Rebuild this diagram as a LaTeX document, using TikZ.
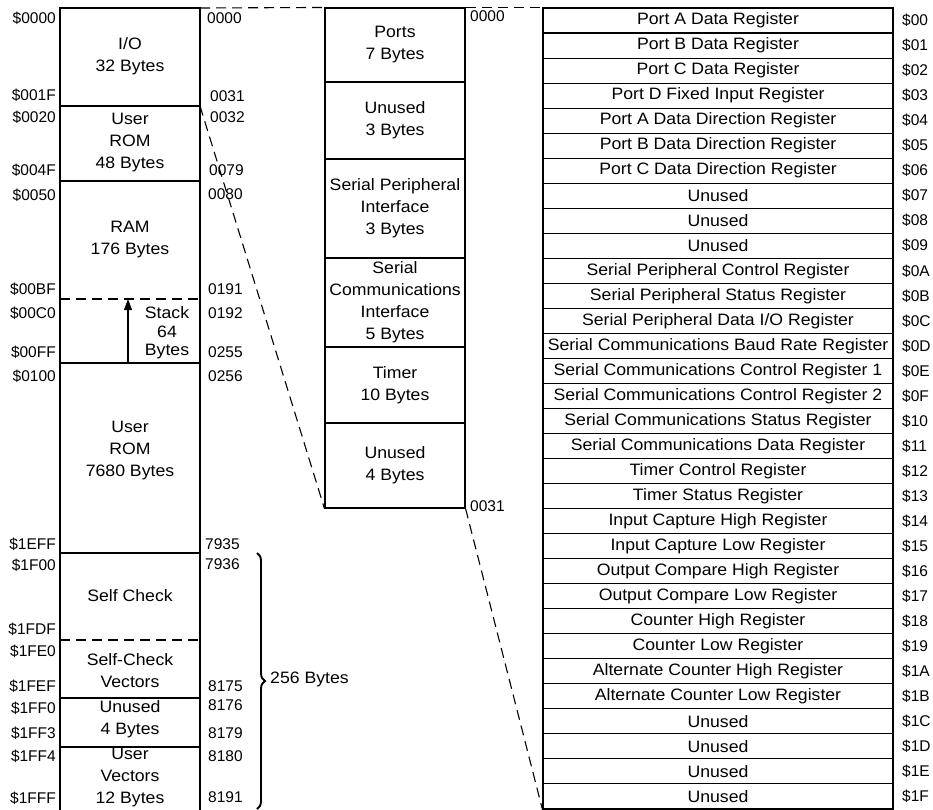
\documentclass[tikz,border=0pt]{standalone}
\usepackage{fontspec}
\setmainfont{Liberation Sans}
\newfontfamily\widefont[FakeStretch=1.07]{Liberation Sans}
\usetikzlibrary{decorations.pathreplacing,arrows.meta}
\begin{document}
\begin{tikzpicture}[x=1pt,y=-1pt,
  ln/.style={line width=1.1pt},
  dashln/.style={line width=1.1pt, dash pattern=on 10pt off 6pt},
  txt/.style={font=\widefont\fontsize{16.5}{22}\selectfont, align=center, inner sep=0pt},
  num/.style={font=\fontsize{15.5}{18}\selectfont, inner sep=0pt},
  midbox/.style={draw, line width=1.1pt, minimum width=140pt, font=\widefont\fontsize{16.5}{22}\selectfont, align=center, inner sep=0pt},
  regbox/.style={draw, line width=1.1pt, minimum width=350pt, minimum height=25.03pt, font=\widefont\fontsize{16.5}{18}\selectfont, inner sep=0pt}]
\useasboundingbox (0,0) rectangle (933,809);

% ---------- left column ----------
\coordinate (LT) at (60,8);
\coordinate (RT) at (200,8);
\coordinate (LB) at (60,812);
\coordinate (RB) at (200,812);
\coordinate (iobot) at (200,106);
\draw[ln] (LB) -- (LT) -- (RT) -- (RB);
\foreach \yy in {106,181,363,553,698,747} \draw[ln] (60,\yy) -- (200,\yy);
\foreach \yy in {299,640} \draw[dashln] (60,\yy) -- (200,\yy);

\node[txt] (io) at (130,56) {I/O\\32 Bytes};
\node[txt] (urom) at (130,143) {User\\ROM\\48 Bytes};
\node[txt] (ram) at (130,240) {RAM\\176 Bytes};
\node[txt, font=\widefont\fontsize{16.5}{18.5}\selectfont] (stk) at (167,333) {Stack\\64\\Bytes};
\coordinate (stkB) at (128,363);
\coordinate (stkT) at (128,299);
\draw[line width=1.3pt, -{Triangle[length=11pt,width=8pt]}] (stkB) -- (stkT);
\node[txt] (urom2) at (130,451) {User\\ROM\\7680 Bytes};
\node[txt] (sc) at (130,596) {Self Check};
\node[txt] (scv) at (130,671) {Self-Check\\Vectors};
\node[txt] (unu) at (130,719) {Unused\\4 Bytes};
\node[txt] (uvec) at (130,778) {User\\Vectors\\12 Bytes};

\foreach \yy/\t [count=\k] in {18/0000,95/001F,117/0020,170/004F,195/0050,289/00BF,313/00C0,352/00FF,376/0100,544/1EFF,565/1F00,629/1FDF,651/1FE0,686/1FEF,708/1FF0,733/1FF3,756/1FF4,798/1FFF}
  \node[num, anchor=east] (h\k) at (56,\yy) {\$\t};
\foreach \yy/\xx/\t [count=\k] in {18/207/0000,96/210/0031,117/210/0032,170/209/0079,194/208/0080,289/208/0191,313/208/0192,352/208/0255,376/208/0256,544/205/7935,564/205/7936,686/208/8175,705/208/8176,733/208/8179,756/208/8180,797/208/8191}
  \node[num, anchor=west] (d\k) at (\xx,\yy) {\t};

% brace
\coordinate (brT) at (257,553);
\coordinate (brB) at (257,809);
\draw[line width=1.9pt, decorate, decoration={brace, amplitude=8pt}] (brT) -- (brB);
\node[txt, anchor=west] (b256) at (270,679) {256 Bytes};

% ---------- middle column ----------
\node[midbox, minimum height=74pt] (m1) at (395,45) {Ports\\7 Bytes};
\node[midbox, minimum height=77pt] (m2) at (395,120.5) {Unused\\3 Bytes};
\node[midbox, minimum height=99pt] (m3) at (395,208.5) {Serial Peripheral\\Interface\\3 Bytes};
\node[midbox, minimum height=89pt] (m4) at (395,302.5) {Serial\\Communications\\Interface\\5 Bytes};
\node[midbox, minimum height=76pt] (m5) at (395,385) {Timer\\10 Bytes};
\node[midbox, minimum height=85pt] (m6) at (395,465.5) {Unused\\4 Bytes};
\node[num, anchor=west] (m0000) at (470,16) {0000};
\node[num, anchor=west] (m0031) at (470,506) {0031};

% ---------- right column ----------
\foreach \t/\h [count=\i from 0] in {
 {Port A Data Register}/00, {Port B Data Register}/01, {Port C Data Register}/02,
 {Port D Fixed Input Register}/03, {Port A Data Direction Register}/04,
 {Port B Data Direction Register}/05, {Port C Data Direction Register}/06,
 {Unused}/07, {Unused}/08, {Unused}/09,
 {Serial Peripheral Control Register}/0A, {Serial Peripheral Status Register}/0B,
 {Serial Peripheral Data I/O Register}/0C, {Serial Communications Baud Rate Register}/0D,
 {Serial Communications Control Register 1}/0E, {Serial Communications Control Register 2}/0F,
 {Serial Communications Status Register}/10, {Serial Communications Data Register}/11,
 {Timer Control Register}/12, {Timer Status Register}/13,
 {Input Capture High Register}/14, {Input Capture Low Register}/15,
 {Output Compare High Register}/16, {Output Compare Low Register}/17,
 {Counter High Register}/18, {Counter Low Register}/19,
 {Alternate Counter High Register}/1A, {Alternate Counter Low Register}/1B,
 {Unused}/1C, {Unused}/1D, {Unused}/1E, {Unused}/1F} {
  \node[regbox] (r\i) at (718, 8+25.03*\i+12.515) {\t};
  \node[num, anchor=west] (rh\i) at (902, 8+25.03*\i+12.515) {\$\h};
}

% ---------- dashed connectors ----------
\draw[dashln] (RT) -- (m1.north west);
\draw[dashln] (m1.north east) -- (r0.north west);
\draw[dashln] (iobot) -- (m6.south west);
\draw[dashln] (m6.south east) -- (r31.south west);
\end{tikzpicture}
\end{document}
